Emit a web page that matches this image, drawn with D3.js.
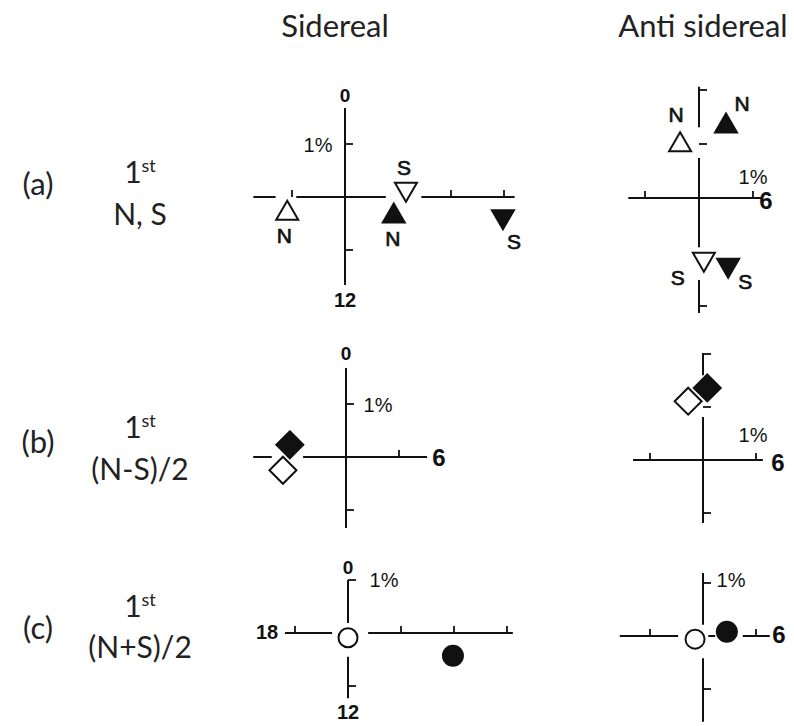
<!DOCTYPE html>
<html><head><meta charset="utf-8">
<script src="https://cdn.jsdelivr.net/npm/d3@7"></script>
<style>body{margin:0;background:#fff}svg{display:block}</style>
</head><body><svg id="chart" width="794" height="726"></svg>
<script>
// ---------------- DATA ----------------
const columnTitles = ["Sidereal", "Anti sidereal"];
const rowLetters = ["(a)", "(b)", "(c)"];
const rowHarmonic = ["1", "1", "1"];
const rowOrdinal = ["st", "st", "st"];
const rowCombos = ["N, S", "(N-S)/2", "(N+S)/2"];
const axisTickLabels = { top: "0", bottom: "12", right: "6", left: "18", unit: "1%" };

// harmonic vectors: x = 6h component (%), y = 0h component (%)
const aSidereal = [
  { shape: "triUp",   fill: "open",  label: "N", x: -1.09, y: -0.25 },
  { shape: "triUp",   fill: "solid", label: "N", x:  0.92, y: -0.30 },
  { shape: "triDown", fill: "open",  label: "S", x:  1.15, y:  0.09 },
  { shape: "triDown", fill: "solid", label: "S", x:  2.98, y: -0.43 }
];
const aAntiSidereal = [
  { shape: "triUp",   fill: "open",  label: "N", x: -0.35, y:  1.04 },
  { shape: "triUp",   fill: "solid", label: "N", x:  0.50, y:  1.39 },
  { shape: "triDown", fill: "open",  label: "S", x:  0.09, y: -1.19 },
  { shape: "triDown", fill: "solid", label: "S", x:  0.54, y: -1.30 }
];
const bSidereal = [
  { shape: "diamond", fill: "solid", x: -1.06, y:  0.23 },
  { shape: "diamond", fill: "open",  x: -1.19, y: -0.25 }
];
const bAntiSidereal = [
  { shape: "diamond", fill: "open",  x: -0.28, y: 1.11 },
  { shape: "diamond", fill: "solid", x:  0.08, y: 1.36 }
];
const cSidereal = [
  { shape: "circle", fill: "open",  x: 0.00, y: -0.09 },
  { shape: "circle", fill: "solid", x: 1.98, y: -0.43 }
];
const cAntiSidereal = [
  { shape: "circle", fill: "open",  x: -0.15, y: -0.06 },
  { shape: "circle", fill: "solid", x:  0.45, y:  0.08 }
];

// ---------------- LAYOUT ----------------
const panels = [
  { data: aSidereal, cx: 345, cy: 197, k: 53,
    h: [[-1.73, -1.31], [-0.92, 0.77], [1.44, 3.2]], v: [[-1.66, 1.68]],
    hT: [-1, 2, 3], vT: [1, -1],
    labels: [["top", 0, -102], ["bottom", 0, 103], ["unit", -27, -52]],
    markLabelOffsets: [[-3, 25], [-1, 26], [-2, -25], [11, 22]] },
  { data: aAntiSidereal, cx: 699, cy: 198, k: 54,
    h: [[-1.31, 1.17]], v: [[1.31, 2.06], [-0.91, 0.74], [-2.13, -1.52]],
    hT: [-1, 1], vT: [2, 1, -2],
    labels: [["unit", 54, -21], ["right", 67, 3]],
    markLabelOffsets: [[-4, -27], [16, -19], [-26, 15], [17, 13]] },
  { data: bSidereal, cx: 346, cy: 457, k: 53,
    h: [[-1.75, -1.4], [-0.81, 1.53]], v: [[-1.34, 1.68]],
    hT: [1], vT: [1, -1],
    labels: [["top", 0, -104], ["unit", 32, -52], ["right", 93, 1]] },
  { data: bAntiSidereal, cx: 703, cy: 460, k: 53,
    h: [[-1.32, 1.13]], v: [[1.6, 2.02], [-1.19, 0.81]],
    hT: [-1, 1], vT: [2, 1, -1],
    labels: [["unit", 50, -25], ["right", 75, 3]] },
  { data: cSidereal, cx: 348, cy: 633, k: 53,
    h: [[-1.19, -0.3], [0.38, 3.11]], v: [[0.19, 1.0], [-1.23, -0.45]],
    hT: [-1, 1, 2, 3], vT: [1, -1],
    labels: [["top", 0, -66], ["unit", 36, -53], ["left", -81, -1], ["bottom", 0, 79]] },
  { data: cAntiSidereal, cx: 703, cy: 636, k: 53,
    h: [[-1.57, -0.47], [0.1, 0.23], [0.75, 1.26]], v: [[0.21, 1.19], [-1.62, -0.42]],
    hT: [-1, 1], vT: [1, -1],
    labels: [["unit", 28, -56], ["right", 76, -1]] }
];

const svg = d3.select("#chart");
const INK = "#111";

// column titles
const titleX = [335, 703];
svg.selectAll("text.title").data(columnTitles).join("text")
  .attr("class", "title")
  .attr("x", (d, i) => titleX[i]).attr("y", 37)
  .attr("text-anchor", "middle")
  .style("font-family", "Lato, 'Open Sans', sans-serif")
  .style("font-size", "31px").attr("fill", "#222")
  .text(d => d);

// row labels
const rowY = [184, 442, 628];
const rowBase1 = [183, 438, 617];
const rowBase2 = [225, 480, 658];
rowLetters.forEach((t, i) => {
  svg.append("text").attr("x", 38).attr("y", rowY[i]).attr("dy", "0.35em")
    .attr("text-anchor", "middle")
    .style("font-family", "Lato, sans-serif").style("font-size", "31px").attr("fill", "#222")
    .text(t);
  const h = svg.append("text").attr("x", 140).attr("y", rowBase1[i])
    .attr("text-anchor", "middle")
    .style("font-family", "Lato, sans-serif").style("font-size", "30px").attr("fill", "#222");
  h.append("tspan").text(rowHarmonic[i]);
  h.append("tspan").attr("dy", -11).style("font-size", "18px").text(rowOrdinal[i]);
  svg.append("text").attr("x", 140).attr("y", rowBase2[i])
    .attr("text-anchor", "middle")
    .style("font-family", "Lato, sans-serif").style("font-size", "30px").attr("fill", "#222")
    .text(rowCombos[i]);
});

const shapePath = {
  triUp: "M0,-9.5L11,9.5L-11,9.5Z",
  triDown: "M0,9.5L11,-9.5L-11,-9.5Z",
  diamond: "M0,-13.5L13.5,0L0,13.5L-13.5,0Z"
};

const labelSize = { top: 19, bottom: 20, right: 24, left: 20, unit: 20 };

panels.forEach(p => {
  const x = d3.scaleLinear().domain([0, 1]).range([p.cx, p.cx + p.k]);
  const y = d3.scaleLinear().domain([0, 1]).range([p.cy, p.cy - p.k]);
  const g = svg.append("g").attr("stroke", INK).attr("stroke-width", 2).attr("fill", "none");

  g.selectAll("line.h").data(p.h).join("line").attr("class", "h")
    .attr("x1", d => x(d[0])).attr("x2", d => x(d[1]))
    .attr("y1", y(0)).attr("y2", y(0));
  g.selectAll("line.v").data(p.v).join("line").attr("class", "v")
    .attr("x1", x(0)).attr("x2", x(0))
    .attr("y1", d => y(d[0])).attr("y2", d => y(d[1]));
  g.selectAll("line.ht").data(p.hT).join("line").attr("class", "ht")
    .attr("x1", d => x(d)).attr("x2", d => x(d))
    .attr("y1", y(0)).attr("y2", y(0) - 7).attr("stroke-width", 1.8);
  g.selectAll("line.vt").data(p.vT).join("line").attr("class", "vt")
    .attr("x1", x(0)).attr("x2", x(0) + 8)
    .attr("y1", d => y(d)).attr("y2", d => y(d)).attr("stroke-width", 1.8);

  // axis text labels
  p.labels.forEach(([key, dx, dy]) => {
    const isUnit = key === "unit";
    svg.append("text")
      .attr("x", p.cx + dx).attr("y", p.cy + dy).attr("dy", "0.35em")
      .attr("text-anchor", "middle")
      .style("font-family", "'Liberation Sans', Arial, sans-serif")
      .style("font-size", labelSize[key] + "px")
      .style("font-weight", isUnit ? "normal" : "bold")
      .attr("fill", INK)
      .text(axisTickLabels[key]);
  });

  // markers
  const m = svg.append("g");
  p.data.forEach((d, i) => {
    const px = x(d.x), py = y(d.y);
    const fill = d.fill === "solid" ? INK : "#fff";
    if (d.shape === "circle") {
      m.append("circle").attr("cx", px).attr("cy", py).attr("r", d.fill === "solid" ? 10 : 9.5)
        .attr("fill", fill).attr("stroke", INK).attr("stroke-width", 2);
    } else {
      m.append("path").attr("d", shapePath[d.shape])
        .attr("transform", `translate(${px},${py})`)
        .attr("fill", fill).attr("stroke", INK).attr("stroke-width", 2)
        .attr("stroke-linejoin", "miter");
    }
    if (d.label && p.markLabelOffsets) {
      const [ox, oy] = p.markLabelOffsets[i];
      m.append("text").attr("x", px + ox).attr("y", py + oy).attr("dy", "0.35em")
        .attr("text-anchor", "middle")
        .style("font-family", "'Liberation Sans', Arial, sans-serif")
        .style("font-size", "21px").style("font-weight", "normal")
        .attr("stroke", INK).attr("stroke-width", 0.7)
        .attr("fill", INK).text(d.label);
    }
  });
});
</script>
</body></html>
